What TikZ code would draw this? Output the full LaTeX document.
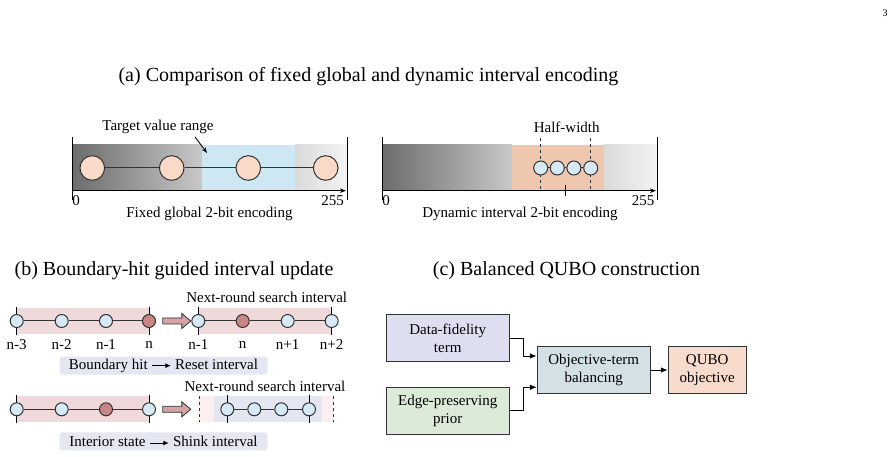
\documentclass[tikz,border=0pt]{standalone}
\usepackage{fontspec}
\setmainfont{Liberation Serif}
\usepackage{xcolor}
\definecolor{bardark}{HTML}{6C6C6C}
\definecolor{barmid}{HTML}{C8C8C8}
\definecolor{barlight}{HTML}{DADADA}
\definecolor{barend}{HTML}{F3F3F3}
\definecolor{targetblue}{HTML}{CDE8F2}
\definecolor{peach}{HTML}{F9DAC8}
\definecolor{halfpeach}{HTML}{EFC6AE}
\definecolor{stateblue}{HTML}{D6E9F6}
\definecolor{bandpink}{HTML}{EFD9DB}
\definecolor{hitred}{HTML}{C98686}
\definecolor{arrowpink}{HTML}{D6A3A5}
\definecolor{palepink}{HTML}{FBEFF0}
\definecolor{lavender}{HTML}{E4E6F2}
\definecolor{fidelity}{HTML}{DDDFF0}
\definecolor{prior}{HTML}{DCEBD7}
\definecolor{balance}{HTML}{D3E0E6}
\definecolor{qubo}{HTML}{F7DBCC}
\definecolor{linegray}{HTML}{333333}
\usepackage{tikz}
\usetikzlibrary{arrows.meta, shapes.arrows, positioning}
\newcommand{\tagarrow}{\tikz[x=1pt,y=1pt,baseline=-3.4pt]\draw[line width=1pt, -{Latex[length=5.5pt,width=5pt]}] (0,0) -- (19,0);}

\begin{document}
\begin{tikzpicture}[x=1pt, y=-1pt,
    title/.style={font=\fontsize{20}{23}\selectfont, inner sep=0},
    lbl/.style={font=\fontsize{15}{17}\selectfont, inner sep=0},
    bigstate/.style={circle, draw=linegray, line width=1pt, fill=peach, minimum size=24.6, inner sep=0},
    state/.style={circle, draw=linegray, line width=1pt, fill=stateblue, minimum size=13, inner sep=0},
    hitstate/.style={state, fill=hitred},
    chain/.style={draw=linegray, line width=1pt},
    tick/.style={draw=black, line width=1pt},
    moveto/.style={single arrow, draw=linegray, fill=arrowpink, minimum height=28,
      single arrow head extend=4.5pt, single arrow tip angle=80, inner xsep=0, inner ysep=2.6pt,
      line width=0.8pt},
    tagbox/.style={lbl, fill=lavender, rounded corners=3pt, minimum width=208, minimum height=18},
    termbox/.style={draw=linegray, line width=1pt, minimum width=123, minimum height=46.7,
      align=center, font=\fontsize{15}{18}\selectfont},
    link/.style={draw=black, line width=1pt, -{Latex[length=7pt,width=5.5pt]}}
]
  \useasboundingbox (0,0) rectangle (895,457);

  % page number
  \node[font=\fontsize{10}{12}\selectfont] (pagenum) at (885,13) {3};

  % (a) titel
  \node[title] (titleA) at (368.5,77) {(a) Comparison of fixed global and dynamic interval encoding};

  % fixed global encoding bar
  \shade[left color=bardark, right color=barmid] (72,145) rectangle (202,190);
  \fill[targetblue] (202,145) rectangle (295,190);
  \shade[left color=barlight, right color=barend] (295,145) rectangle (347,190);
  \draw[tick, -{Stealth[length=6pt,width=4.5pt]}] (72,190.7) -- (346,190.7);
  \draw[tick] (72,137) -- (72,200);
  \draw[tick] (347,137) -- (347,200);
  \node[bigstate] (fa1) at (92.3,168) {};
  \node[bigstate] (fa2) at (171.7,168) {};
  \node[bigstate] (fa3) at (248.3,168) {};
  \node[bigstate] (fa4) at (325.7,168) {};
  \draw[chain] (fa1) -- (fa2) -- (fa3) -- (fa4);
  \node[lbl] (zeroA) at (76,201) {0};
  \node[lbl] (maxA) at (332.5,201) {255};
  \node[lbl] (captionA) at (209.5,214) {Fixed global 2-bit encoding};
  \node[lbl] (target) at (158,127) {Target value range};
  \coordinate (targetfrom) at (195,137);
  \coordinate (targettip) at (207,153);
  \draw[line width=0.9pt, -{Stealth[length=6pt,width=4.5pt]}] (targetfrom) -- (targettip);

  % dynamic interval encoding bar
  \shade[left color=bardark, right color=barmid] (382,145) rectangle (512,190);
  \fill[halfpeach] (512,145) rectangle (604,190);
  \shade[left color=barlight, right color=barend] (604,145) rectangle (657,190);
  \draw[tick, -{Stealth[length=6pt,width=4.5pt]}] (382,190.7) -- (656,190.7);
  \draw[tick] (382,137) -- (382,200);
  \draw[tick] (657,137) -- (657,200);
  \draw[tick] (565.7,185) -- (565.7,196);
  \draw[linegray, line width=0.9pt, dashed] (540.7,138) -- (540.7,191.7);
  \draw[linegray, line width=0.9pt, dashed] (590.7,138) -- (590.7,191.7);
  \node[state, minimum size=14] (da1) at (540.7,168) {};
  \node[state, minimum size=14] (da2) at (557.3,168) {};
  \node[state, minimum size=14] (da3) at (573.9,168) {};
  \node[state, minimum size=14] (da4) at (590.7,168) {};
  \draw[chain] (da1) -- (da2) -- (da3) -- (da4);
  \node[lbl] (halfwidth) at (566.7,127) {Half-width};
  \node[lbl] (zeroB) at (386,201) {0};
  \node[lbl] (maxB) at (643,201) {255};
  \node[lbl] (captionB) at (520,214) {Dynamic interval 2-bit encoding};

  % (b) titel
  \node[title] (titleB) at (174,271) {(b) Boundary-hit guided interval update};

  % boundary hit row
  \fill[bandpink] (16.7,308.5) rectangle (149,334);
  \fill[bandpink] (198.3,308.5) rectangle (331.7,334);
  \draw[tick] (16.7,307) -- (16.7,335);
  \draw[tick] (149,307) -- (149,335);
  \draw[tick] (198.3,307) -- (198.3,335);
  \draw[tick] (331.7,307) -- (331.7,335);
  \node[state] (ba1) at (16.7,321) {};
  \node[state] (ba2) at (61.7,321) {};
  \node[state] (ba3) at (106,321) {};
  \node[hitstate] (ba4) at (149,321) {};
  \draw[chain] (ba1) -- (ba2) -- (ba3) -- (ba4);
  \node[moveto] (hitmove) at (175,321) {};
  \node[state] (bb1) at (198.3,321) {};
  \node[hitstate] (bb2) at (242.7,321) {};
  \node[state] (bb3) at (287.7,321) {};
  \node[state] (bb4) at (331.7,321) {};
  \draw[chain] (bb1) -- (bb2) -- (bb3) -- (bb4);
  \node[lbl] (la1) at (16.7,345) {n-3};
  \node[lbl] (la2) at (61.7,345) {n-2};
  \node[lbl] (la3) at (106,345) {n-1};
  \node[lbl] (la4) at (149,345) {n};
  \node[lbl] (lb1) at (198.3,345) {n-1};
  \node[lbl] (lb2) at (242.7,345) {n};
  \node[lbl] (lb3) at (287.7,345) {n+1};
  \node[lbl] (lb4) at (331.7,345) {n+2};
  \node[lbl] (nextA) at (266.7,297) {Next-round search interval};
  \node[tagbox] (resettag) at (163.5,365.5) {Boundary hit \tagarrow{} Reset interval};

  % interior state row
  \fill[bandpink] (16.7,396) rectangle (149,422);
  \fill[palepink] (199.3,396) rectangle (333.3,422);
  \fill[lavender] (214,396) rectangle (322,422);
  \draw[tick] (16.7,395) -- (16.7,423);
  \draw[tick] (149,395) -- (149,423);
  \draw[tick] (227.3,395) -- (227.3,423);
  \draw[tick] (309,395) -- (309,423);
  \draw[linegray, line width=0.9pt, dashed] (199.3,396) -- (199.3,422);
  \draw[linegray, line width=0.9pt, dashed] (333.3,396) -- (333.3,422);
  \node[state] (ca1) at (16.7,409.3) {};
  \node[state] (ca2) at (61.7,409.3) {};
  \node[hitstate] (ca3) at (106,409.3) {};
  \node[state] (ca4) at (149,409.3) {};
  \draw[chain] (ca1) -- (ca2) -- (ca3) -- (ca4);
  \node[moveto] (shrinkmove) at (175,409.3) {};
  \node[state] (cb1) at (227.3,409.3) {};
  \node[state] (cb2) at (254.3,409.3) {};
  \node[state] (cb3) at (281.3,409.3) {};
  \node[state] (cb4) at (309,409.3) {};
  \draw[chain] (cb1) -- (cb2) -- (cb3) -- (cb4);
  \node[lbl] (nextB) at (265,386.7) {Next-round search interval};
  \node[tagbox] (shrinktag) at (163.5,441.3) {Interior state \tagarrow{} Shink interval};

  % (c) titel
  \node[title] (titleC) at (566.5,271) {(c) Balanced QUBO construction};

  % QUBO construction
  \node[termbox, fill=fidelity] (fidelity) at (447.7,338.3) {Data-fidelity\\term};
  \node[termbox, fill=prior] (prior) at (447.7,410.7) {Edge-preserving\\prior};
  \node[termbox, fill=balance, minimum width=112.7] (balance) at (593.7,370) {Objective-term\\balancing};
  \node[termbox, fill=qubo, minimum width=77.7, right=17.3pt of balance] (qubo) {QUBO\\objective};
  \draw[link] (fidelity.east) -- ++(14,0) |- ([yshift=14pt]balance.west);
  \draw[link] (prior.east) -- ++(14,0) |- ([yshift=-17.3pt]balance.west);
  \draw[link] (balance) -- (qubo);

\end{tikzpicture}
\end{document}
